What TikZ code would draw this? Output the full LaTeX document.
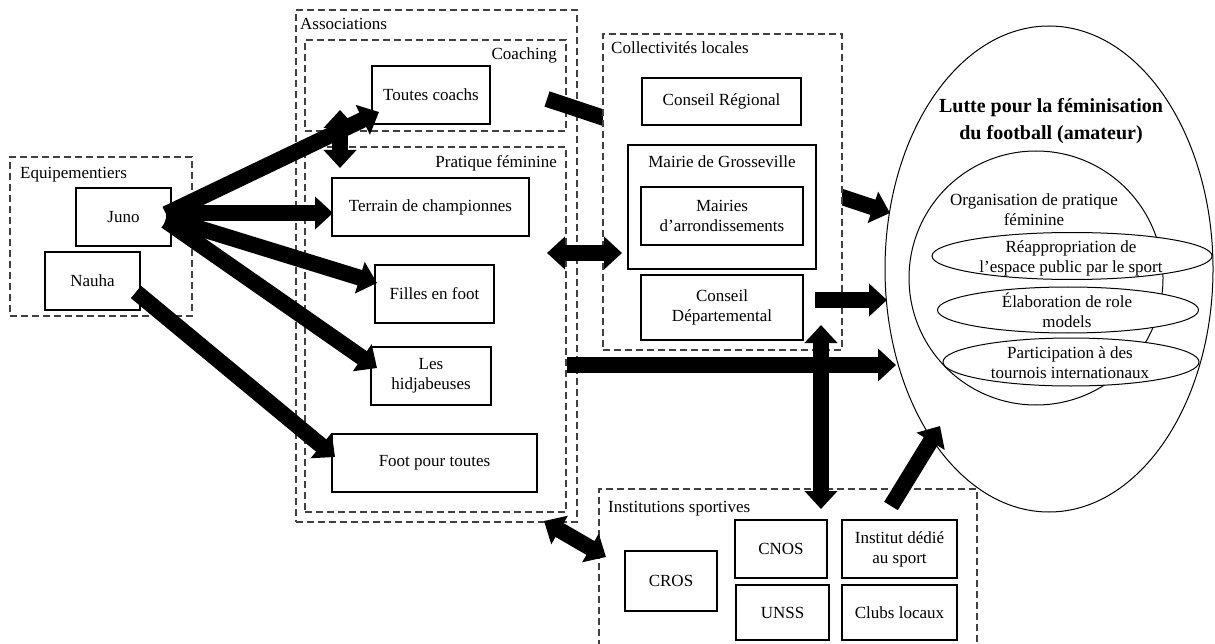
\documentclass[tikz,border=0pt]{standalone}
\usepackage{fontspec}
\setmainfont{Liberation Serif}
\usetikzlibrary{arrows.meta,shapes.geometric}
\begin{document}
\begin{tikzpicture}[x=1pt,y=-1pt,
  font=\fontsize{17}{20}\selectfont,
  box/.style={draw, line width=1.2pt, rectangle, inner sep=0pt, align=center, fill=white},
  group/.style={draw=black!75, line width=1.2pt, dash pattern=on 7pt off 4pt, rectangle, inner sep=0pt},
  lbl/.style={inner sep=0pt},
  oval/.style={draw, line width=1pt, ellipse, inner sep=0pt, fill=white},
  etext/.style={inner sep=0pt, align=center},
  bigarrow/.style={line width=16pt, -{Triangle[length=18pt,width=32pt]}},
  bigdarrow/.style={line width=16pt, {Triangle[length=18pt,width=32pt]}-{Triangle[length=18pt,width=32pt]}}
]
\useasboundingbox (0,0) rectangle (1215,644);

% Equipementiers
\node[group, minimum width=182, minimum height=159] (equip) at (101,236.5) {};
\node[lbl, anchor=base west] (equiplbl) at (20,179) {Equipementiers};
\node[box, minimum width=95, minimum height=58] (juno) at (123.5,217) {Juno};
\node[box, minimum width=95, minimum height=58] (nauha) at (92.5,281) {Nauha};

% Associations
\node[group, minimum width=281, minimum height=512] (assoc) at (436.5,266) {};
\node[lbl, anchor=base west] (assoclbl) at (300,30) {Associations};
\node[group, minimum width=261, minimum height=91] (coaching) at (435.5,85.5) {};
\node[lbl, anchor=base east] (coachinglbl) at (557,60) {Coaching};
\node[group, minimum width=261, minimum height=365] (pratique) at (435.5,329.5) {};
\node[lbl, anchor=base east] (pratiquelbl) at (557,168) {Pratique féminine};
\node[box, minimum width=118, minimum height=58] (coachs) at (431,95) {Toutes coachs};
\node[box, minimum width=197, minimum height=58] (terrain) at (430.5,207) {Terrain de championnes};
\node[box, minimum width=119, minimum height=58] (filles) at (434.5,294) {Filles en foot};
\node[box, minimum width=120, minimum height=58] (hidja) at (431,376) {Les\\hidjabeuses};
\node[box, minimum width=205, minimum height=58] (footpt) at (434.5,463) {Foot pour toutes};

% Institutions sportives
\node[group, minimum width=378, minimum height=171, fill=white] (instit) at (788,574.5) {};
\node[lbl, anchor=base west] (institlbl) at (608,512) {Institutions sportives};
\node[box, minimum width=92, minimum height=60] (cros) at (671,581) {CROS};
\node[box, minimum width=92, minimum height=58] (cnos) at (781,549) {CNOS};
\node[box, minimum width=93, minimum height=55] (unss) at (782.5,612.5) {UNSS};
\node[box, minimum width=115, minimum height=58] (institut) at (899.5,549) {Institut dédié\\au sport};
\node[box, minimum width=115, minimum height=55] (clubs) at (899.5,612.5) {Clubs locaux};

% Big ellipse
\node[oval, minimum width=328, minimum height=486] (lutte) at (1049,269) {};
\node[etext, font=\fontsize{20}{27}\selectfont\bfseries] (luttelbl) at (1051,121.5) {Lutte pour la féminisation\\du football (amateur)};
\node[draw, line width=1pt, circle, inner sep=0pt, minimum size=254] (orga) at (1036,278) {};
\node[etext] (orgalbl) at (1034,210) {Organisation de pratique\\féminine};
\node[oval, minimum width=280, minimum height=47] (e1) at (1072,256) {};
\node[etext] (e1lbl) at (1071,258) {Réappropriation de\\l’espace public par le sport};
\node[oval, minimum width=261, minimum height=46] (e2) at (1068,310) {};
\node[etext] (e2lbl) at (1067,310.5) {Élaboration de role\\models};
\node[oval, minimum width=256, minimum height=48] (e3) at (1071,362) {};
\node[etext] (e3lbl) at (1070,363) {Participation à des\\tournois internationaux};

% arrow end coordinates
\coordinate (a1s) at (166,214);
\coordinate (a1e) at (379,112);
\coordinate (a2s) at (166,213);
\coordinate (a2e) at (333,213);
\coordinate (a3s) at (166,218);
\coordinate (a3e) at (377,283);
\coordinate (a4s) at (166,221);
\coordinate (a4e) at (377,368);
\coordinate (a5s) at (136,292);
\coordinate (a5e) at (335,457);
\coordinate (cpS) at (340,110);
\coordinate (cpE) at (340,168);
\coordinate (ceS) at (547,99);
\coordinate (ceE) at (890,213);

% arrows from Equipementiers
\draw[bigarrow] (a1s) -- (a1e);
\draw[bigarrow] (a2s) -- (a2e);
\draw[bigarrow] (a3s) -- (a3e);
\draw[bigarrow] (a4s) -- (a4e);
\draw[bigarrow] (a5s) -- (a5e);
\draw[bigdarrow] (cpS) -- (cpE);
% coaching -> lutte (passes under Collectivites)
\draw[bigarrow] (ceS) -- (ceE);

% Collectivites locales
\node[group, minimum width=239, minimum height=316, fill=white] (collect) at (722.5,192) {};
\node[lbl, anchor=base west] (collectlbl) at (611,54) {Collectivités locales};
\node[box, minimum width=159, minimum height=47] (conseilreg) at (721.5,101.5) {Conseil Régional};
\node[box, minimum width=188, minimum height=124] (mairie) at (722,207) {};
\node[lbl, anchor=base] (mairielbl) at (722,168) {Mairie de Grosseville};
\node[box, minimum width=162, minimum height=58] (mairiesarr) at (722,216) {Mairies\\d’arrondissements};
\node[box, minimum width=162, minimum height=65] (conseildep) at (722,307.5) {Conseil\\Départemental};

\coordinate (pmS) at (547,253);
\coordinate (pmE) at (622,253);
\coordinate (cdS) at (815,300);
\coordinate (cdE) at (887,300);
\coordinate (plS) at (567,365);
\coordinate (plE) at (896,365);
\coordinate (ciS) at (821,325);
\coordinate (ciE) at (821,509);
\coordinate (ilS) at (891,506);
\coordinate (ilE) at (940,426);
\coordinate (aiS) at (544,521);
\coordinate (aiE) at (606,557);

\draw[bigdarrow] (pmS) -- (pmE);
\draw[bigarrow] (cdS) -- (cdE);
\draw[bigarrow] (plS) -- (plE);
\draw[bigdarrow] (ciS) -- (ciE);
\draw[bigarrow] (ilS) -- (ilE);
\draw[bigdarrow] (aiS) -- (aiE);
\end{tikzpicture}
\end{document}
